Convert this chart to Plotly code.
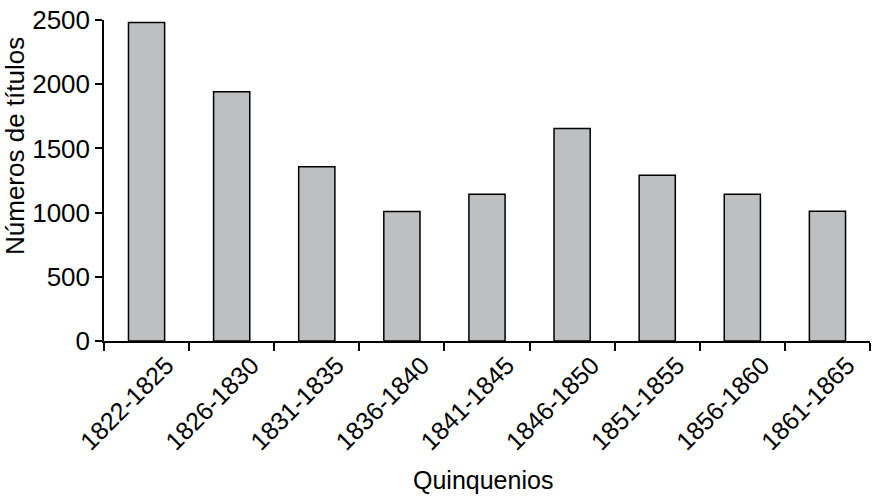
import plotly.graph_objects as go

categories = ["1822-1825", "1826-1830", "1831-1835", "1836-1840", "1841-1845",
              "1846-1850", "1851-1855", "1856-1860", "1861-1865"]
values = [2480, 1942, 1358, 1008, 1142, 1655, 1290, 1142, 1010]
y_ticks = [0, 500, 1000, 1500, 2000, 2500]

FONT = "Liberation Sans, Arial, sans-serif"

fig = go.Figure(go.Bar(
    x=categories,
    y=values,
    marker=dict(color="#bebfc1", line=dict(color="black", width=1.5)),
))

fig.update_layout(
    width=873, height=500,
    margin=dict(l=104, r=3, t=20, b=159, autoexpand=False),
    paper_bgcolor="white", plot_bgcolor="white",
    bargap=0.575,
    showlegend=False,
    font=dict(family=FONT, color="black", size=25),
)

fig.update_xaxes(
    automargin=False,
    showline=True, linecolor="black", linewidth=1.5,
    ticks="outside", ticklen=8, tickwidth=1.5, tickcolor="black",
    tickson="boundaries",
    tickangle=-45,
    tickfont=dict(size=25, family=FONT),
    ticklabelshift=20,
    ticklabelstandoff=-2,
    showgrid=False,
)

fig.update_yaxes(
    automargin=False,
    range=[0, 2500],
    tickvals=y_ticks,
    showline=True, linecolor="black", linewidth=1.5,
    ticks="outside", ticklen=7, tickwidth=1.5, tickcolor="black",
    tickfont=dict(size=26, family=FONT),
    showgrid=False, zeroline=False,
)

fig.add_annotation(
    text="Quinquenios", xref="paper", yref="paper",
    x=(483 - 104) / 766, y=(341 - 480) / 321,
    xanchor="center", yanchor="middle", showarrow=False,
    font=dict(size=25, family=FONT, color="black"),
)
fig.add_annotation(
    text="Números de títulos", xref="paper", yref="paper",
    x=(15 - 104) / 766, y=(341 - 146) / 321, textangle=-90,
    xanchor="center", yanchor="middle", showarrow=False,
    font=dict(size=26, family=FONT, color="black"),
)

fig.write_html(
    "out.html",
    config={"displayModeBar": False},
    post_script="document.body.style.margin='0';document.body.style.padding='0';",
)
